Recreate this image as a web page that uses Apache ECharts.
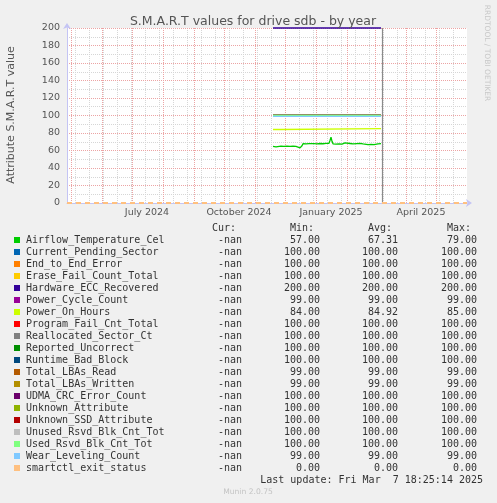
<!DOCTYPE html>
<html>
<head>
<meta charset="utf-8">
<script src="https://cdn.jsdelivr.net/npm/echarts@6/dist/echarts.min.js"></script>
<style>
html,body{margin:0;padding:0;background:#f0f0f0;}
#chart{width:497px;height:503px;}
</style>
</head>
<body>
<div id="chart"></div>
<script>
// ---------- data ----------
const chartTitle = 'S.M.A.R.T values for drive sdb - by year';
const yAxisTitle = 'Attribute S.M.A.R.T value';
const watermark = 'RRDTOOL / TOBI OETIKER';
const footer = 'Munin 2.0.75';
const lastUpdateText = 'Last update: Fri Mar  7 18:25:14 2025';

const axisStart = '2024-04-27';
const axisEnd = '2025-06-01';
const lastUpdate = '2025-03-07T18:25:14Z';

const xLabelDates = ['2024-07-16', '2024-10-16', '2025-01-16', '2025-04-16'];
const xLabelTexts = ['July 2024', 'October 2024', 'January 2025', 'April 2025'];
const monthGridDates = ['2024-05-01','2024-06-01','2024-07-01','2024-08-01','2024-09-01','2024-10-01',
  '2024-11-01','2024-12-01','2025-01-01','2025-02-01','2025-03-01','2025-04-01','2025-05-01'];
const weekGridDates = ['2024-05-05','2024-05-19','2024-06-02','2024-06-16','2024-06-30','2024-07-14',
  '2024-07-28','2024-08-11','2024-08-25','2024-09-08','2024-09-22','2024-10-06','2024-10-20',
  '2024-11-03','2024-11-17','2024-12-01','2024-12-15','2024-12-29','2025-01-12','2025-01-26',
  '2025-02-09','2025-02-23','2025-03-09','2025-03-23','2025-04-06','2025-04-20','2025-05-04','2025-05-18'];

const seriesNames = ['Airflow_Temperature_Cel','Current_Pending_Sector','End_to_End_Error',
  'Erase_Fail_Count_Total','Hardware_ECC_Recovered','Power_Cycle_Count','Power_On_Hours',
  'Program_Fail_Cnt_Total','Reallocated_Sector_Ct','Reported_Uncorrect','Runtime_Bad_Block',
  'Total_LBAs_Read','Total_LBAs_Written','UDMA_CRC_Error_Count','Unknown_Attribute',
  'Unknown_SSD_Attribute','Unused_Rsvd_Blk_Cnt_Tot','Used_Rsvd_Blk_Cnt_Tot','Wear_Leveling_Count',
  'smartctl_exit_status'];
const seriesColors = ['#00CC00','#0066B3','#FF8000','#FFCC00','#330099','#990099','#CCFF00',
  '#FF0000','#808080','#008F00','#00487D','#B35A00','#B38F00','#6B006B','#8FB300','#B30000',
  '#BEBEBE','#80FF80','#80C9FF','#FFC080'];
const curValues = ['-nan','-nan','-nan','-nan','-nan','-nan','-nan','-nan','-nan','-nan',
  '-nan','-nan','-nan','-nan','-nan','-nan','-nan','-nan','-nan','-nan'];
const minValues = ['57.00','100.00','100.00','100.00','200.00','99.00','84.00','100.00','100.00','100.00',
  '100.00','99.00','99.00','100.00','100.00','100.00','100.00','100.00','99.00','0.00'];
const avgValues = ['67.31','100.00','100.00','100.00','200.00','99.00','84.92','100.00','100.00','100.00',
  '100.00','99.00','99.00','100.00','100.00','100.00','100.00','100.00','99.00','0.00'];
const maxValues = ['79.00','100.00','100.00','100.00','200.00','99.00','85.00','100.00','100.00','100.00',
  '100.00','99.00','99.00','100.00','100.00','100.00','100.00','100.00','99.00','0.00'];

// Airflow_Temperature_Cel (daily averages)
const airflowDates = ['2024-11-19','2024-11-21','2024-11-22','2024-11-24','2024-11-27','2024-11-30',
  '2024-12-03','2024-12-06','2024-12-09','2024-12-12','2024-12-14','2024-12-16','2024-12-17',
  '2024-12-18','2024-12-19','2024-12-22','2024-12-25','2024-12-27','2024-12-30','2025-01-02',
  '2025-01-05','2025-01-08','2025-01-11','2025-01-14','2025-01-15','2025-01-16','2025-01-17',
  '2025-01-18','2025-01-21','2025-01-24','2025-01-27','2025-01-30','2025-02-01','2025-02-04',
  '2025-02-07','2025-02-09','2025-02-11','2025-02-14','2025-02-17','2025-02-19','2025-02-22',
  '2025-02-25','2025-02-28','2025-03-01','2025-03-02','2025-03-04','2025-03-05','2025-03-07'];
const airflowValues = [64.8,64.9,64.2,64.8,64.9,64.7,
  64.9,64.8,64.9,64.6,63.6,63.0,62.8,
  65.5,67.8,67.6,67.9,67.3,67.8,67.6,
  68.0,67.7,68.1,68.2,71.5,75.2,70.5,
  67.6,67.2,67.5,67.2,68.6,67.6,68.0,
  67.5,68.6,67.9,68.1,67.6,66.9,66.8,
  66.9,66.7,67.4,66.8,67.6,67.1,67.8];

// flat attributes: first and last sample
const flatDates = ['2024-11-19', '2025-03-07'];
const currentPendingSector = [100, 100];
const endToEndError = [100, 100];
const eraseFailCountTotal = [100, 100];
const hardwareEccRecovered = [200, 200];
const powerCycleCount = [99, 99];
const powerOnHoursDates = ['2024-11-19','2024-11-26','2024-11-27','2025-03-07'];
const powerOnHours = [84, 84, 85, 85];
const programFailCntTotal = [100, 100];
const reallocatedSectorCt = [100, 100];
const reportedUncorrect = [100, 100];
const runtimeBadBlock = [100, 100];
const totalLbasRead = [99, 99];
const totalLbasWritten = [99, 99];
const udmaCrcErrorCount = [100, 100];
const unknownAttribute = [100, 100];
const unknownSsdAttribute = [100, 100];
const unusedRsvdBlkCntTot = [100, 100];
const usedRsvdBlkCntTot = [100, 100];
const wearLevelingCount = [99, 99];
const smartctlExitStatus = [0, 0];

const yTicks = {min: 0, max: 200, interval: 20};

// ---------- build ----------
const T = s => Date.parse(s.length === 10 ? s + 'T00:00:00Z' : s);
const pairs = (dates, vals) => dates.map((d, i) => [T(d), vals[i]]);

const seriesData = [
  pairs(airflowDates, airflowValues),
  pairs(flatDates, currentPendingSector),
  pairs(flatDates, endToEndError),
  pairs(flatDates, eraseFailCountTotal),
  pairs(flatDates, hardwareEccRecovered),
  pairs(flatDates, powerCycleCount),
  pairs(powerOnHoursDates, powerOnHours),
  pairs(flatDates, programFailCntTotal),
  pairs(flatDates, reallocatedSectorCt),
  pairs(flatDates, reportedUncorrect),
  pairs(flatDates, runtimeBadBlock),
  pairs(flatDates, totalLbasRead),
  pairs(flatDates, totalLbasWritten),
  pairs(flatDates, udmaCrcErrorCount),
  pairs(flatDates, unknownAttribute),
  pairs(flatDates, unknownSsdAttribute),
  pairs(flatDates, unusedRsvdBlkCntTot),
  pairs(flatDates, usedRsvdBlkCntTot),
  pairs(flatDates, wearLevelingCount),
  pairs(flatDates, smartctlExitStatus)
];

const FONT = 'DejaVu Sans';
const MONO = 'DejaVu Sans Mono';
const AXIS_COLOR = '#c4c4f4';
const MAJOR = '#eca4a4';
const MINOR = '#d6d6d6';

const series = seriesNames.map((name, i) => {
  const s = {
    name: name,
    type: 'line',
    xAxisIndex: 0,
    yAxisIndex: 0,
    data: seriesData[i],
    showSymbol: false,
    symbol: 'none',
    clip: false,
    animation: false,
    z: 3,
    lineStyle: {color: seriesColors[i], width: 1.3},
    itemStyle: {color: seriesColors[i]}
  };
  if (name === 'smartctl_exit_status') {
    s.lineStyle = {color: seriesColors[i], width: 2, type: [5, 4], dashOffset: 8};
    s.markLine = {
      silent: true, symbol: 'none', animation: false,
      label: {show: false},
      lineStyle: {color: seriesColors[i], width: 2, type: [5, 4]},
      data: [{yAxis: 0}]
    };
  }
  if (name === 'Reallocated_Sector_Ct') {
    s.markLine = {
      silent: true, symbol: 'none', animation: false,
      label: {show: false},
      lineStyle: {color: '#8a8a8a', width: 1.2, type: 'solid'},
      data: [{xAxis: T(lastUpdate)}]
    };
  }
  return s;
});

// legend table as graphic text
const graphics = [];
const rowY0 = 240, rowStep = 12;
const colRight = {cur: 242, min: 320, avg: 398, max: 477};
const hdrY = 228;
[['Cur:', 236], ['Min:', 314], ['Avg:', 392], ['Max:', 471]].forEach(h => {
  graphics.push({type: 'text', x: h[1], y: hdrY,
    style: {text: h[0], font: '10px "' + MONO + '"', fill: '#333', align: 'right', verticalAlign: 'middle'}});
});
seriesNames.forEach((name, i) => {
  const y = rowY0 + i * rowStep;
  graphics.push({type: 'rect', shape: {x: 14, y: y - 3, width: 6, height: 6},
    style: {fill: seriesColors[i]}});
  graphics.push({type: 'text', x: 26, y: y,
    style: {text: name, font: '10px "' + MONO + '"', fill: '#333', align: 'left', verticalAlign: 'middle'}});
  [['cur', curValues], ['min', minValues], ['avg', avgValues], ['max', maxValues]].forEach(c => {
    graphics.push({type: 'text', x: colRight[c[0]], y: y,
      style: {text: c[1][i], font: '10px "' + MONO + '"', fill: '#333', align: 'right', verticalAlign: 'middle'}});
  });
});
graphics.push({type: 'text', x: 483, y: 480,
  style: {text: lastUpdateText, font: '10px "' + MONO + '"', fill: '#333', align: 'right', verticalAlign: 'middle'}});
graphics.push({type: 'text', x: 248, y: 492,
  style: {text: footer, font: '7.6px "' + FONT + '"', fill: '#c4c4c4', align: 'center', verticalAlign: 'middle'}});
graphics.push({type: 'text', x: 487, y: 53, rotation: -Math.PI / 2,
  style: {text: watermark, font: '7.5px "' + FONT + '"', fill: '#c8c8c8', align: 'center', verticalAlign: 'middle'}});
graphics.push({type: 'text', x: 11, y: 115, rotation: Math.PI / 2,
  style: {text: yAxisTitle, font: '11px "' + FONT + '"', fill: '#555', align: 'center', verticalAlign: 'middle'}});

const xMin = T(axisStart), xMax = T(axisEnd);
const labelMap = {};
xLabelDates.forEach((d, i) => { labelMap[T(d)] = xLabelTexts[i]; });

const option = {
  backgroundColor: '#f0f0f0',
  animation: false,
  textStyle: {fontFamily: FONT},
  title: {
    text: chartTitle, left: 248, top: 10, textAlign: 'center',
    textStyle: {fontFamily: FONT, fontSize: 12.5, fontWeight: 'normal', color: '#555'}
  },
  grid: {left: 67, top: 28, width: 400, height: 175, show: true, backgroundColor: '#ffffff', borderWidth: 0},
  xAxis: [
    {
      type: 'value', min: xMin, max: xMax, z: 2,
      axisLine: {show: true, lineStyle: {color: AXIS_COLOR, width: 1}, symbol: ['none', 'arrow'], symbolSize: [6, 6], symbolOffset: [0, 5]},
      axisTick: {show: false},
      splitLine: {show: false},
      axisLabel: {
        show: true, customValues: xLabelDates.map(T), margin: 5,
        color: '#555', fontSize: 9.5, fontFamily: FONT,
        formatter: v => labelMap[v] || ''
      }
    },
    {
      type: 'value', min: xMin, max: xMax, z: 1,
      axisLine: {show: false}, axisLabel: {show: false},
      axisTick: {show: false, customValues: monthGridDates.map(T)},
      splitLine: {show: true, lineStyle: {color: MAJOR, width: 1, type: [1, 1]}}
    },
    {
      type: 'value', min: xMin, max: xMax, z: 0,
      axisLine: {show: false}, axisLabel: {show: false},
      axisTick: {show: false, customValues: weekGridDates.map(T)},
      splitLine: {show: true, lineStyle: {color: MINOR, width: 1, type: [1, 1]}}
    }
  ],
  yAxis: [{
    type: 'value', min: yTicks.min, max: yTicks.max, interval: yTicks.interval, z: 1,
    axisLine: {show: true, lineStyle: {color: AXIS_COLOR, width: 1}, symbol: ['none', 'arrow'], symbolSize: [6, 6], symbolOffset: [0, 5]},
    axisTick: {show: false},
    axisLabel: {color: '#555', fontSize: 9.5, fontFamily: FONT, margin: 7},
    splitLine: {show: true, lineStyle: {color: MAJOR, width: 1, type: [1, 1]}},
    minorTick: {show: false, splitNumber: 2},
    minorSplitLine: {show: true, lineStyle: {color: MINOR, width: 1, type: [1, 1]}}
  }],
  series: series,
  graphic: graphics
};

const chart = echarts.init(document.getElementById('chart'), null, {renderer: 'canvas'});
chart.setOption(option);
</script>
</body>
</html>
